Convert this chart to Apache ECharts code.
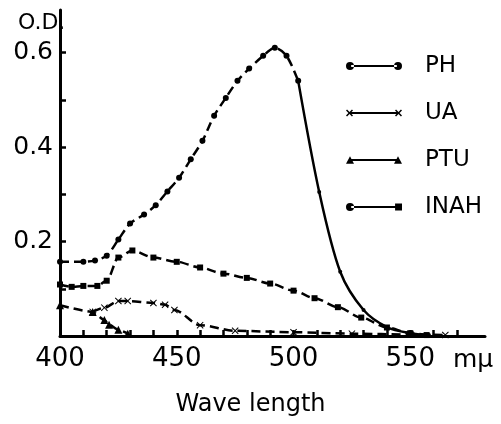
<!DOCTYPE html>
<html>
<head>
<meta charset="utf-8">
<script src="https://cdn.jsdelivr.net/npm/echarts@6/dist/echarts.min.js"></script>
<style>
html,body{margin:0;padding:0;background:#fff;}
#chart{width:501px;height:424px;}
</style>
</head>
<body>
<div id="chart"></div>
<script>
// ---- data ----
var phWaveA = [400, 410, 415, 420, 425, 430, 436, 441, 446, 451, 456, 461, 466, 471, 476, 481, 487, 492, 497, 502];
var phOdA   = [0.157, 0.157, 0.160, 0.170, 0.204, 0.238, 0.257, 0.277, 0.306, 0.335, 0.374, 0.413, 0.466, 0.504, 0.540, 0.566, 0.593, 0.610, 0.593, 0.540];
var phWaveB = [502, 511, 520, 530, 540, 550, 558];
var phOdB   = [0.540, 0.305, 0.136, 0.055, 0.019, 0.006, 0.002];
var uaWave  = [414, 419, 425, 429, 440, 445, 449, 460, 475, 500, 525, 550, 565];
var uaOd    = [0.051, 0.060, 0.074, 0.074, 0.070, 0.066, 0.055, 0.023, 0.011, 0.008, 0.005, 0.003, 0.002];
var ptuWave = [400, 414, 419, 421, 425, 429];
var ptuOd   = [0.065, 0.051, 0.034, 0.024, 0.013, 0.005];
var inahWave = [400, 405, 410, 416, 420, 425, 431, 440, 450, 460, 470, 480, 490, 500, 509, 519, 529, 540, 550, 557];
var inahOd   = [0.109, 0.104, 0.106, 0.106, 0.117, 0.166, 0.181, 0.166, 0.157, 0.145, 0.132, 0.123, 0.111, 0.096, 0.080, 0.061, 0.039, 0.018, 0.006, 0.002];
var seriesNames = ['PH', 'UA', 'PTU', 'INAH'];
var xTickValues = [400, 410, 420, 430, 440, 450, 460, 470, 480, 490, 500, 510, 520, 530, 540, 550, 560, 570];
var xLabelValues = [400, 450, 500, 550];
var yTickValues = [0.1, 0.2, 0.3, 0.4, 0.5, 0.6];
var yLabelValues = [0.2, 0.4, 0.6];

function pairs(xs, ys) { return xs.map(function (x, i) { return [x, ys[i]]; }); }

var FONT = 'DejaVu Sans';
var crossPath = 'path://M0,1L1,0L5,4L9,0L10,1L6,5L10,9L9,10L5,6L1,10L0,9L4,5Z';

// legend icons: marker - line - marker
function circ(cx) { return 'M' + (cx - 3.5) + ',5a3.5,3.5 0 1,0 7,0a3.5,3.5 0 1,0 -7,0Z'; }
function cross(cx) {
  var a = 3, w = 0.9, cy = 5;
  var p = [[cx-a,cy-a+w],[cx-a+w,cy-a],[cx,cy-w],[cx+a-w,cy-a],[cx+a,cy-a+w],[cx+w,cy],[cx+a,cy+a-w],[cx+a-w,cy+a],[cx,cy+w],[cx-a+w,cy+a],[cx-a,cy+a-w],[cx-w,cy]];
  return 'M' + p.map(function (q) { return q[0] + ',' + q[1]; }).join('L') + 'Z';
}
function tri(cx) { return 'M' + (cx - 3.5) + ',8.2L' + cx + ',1.8L' + (cx + 3.5) + ',8.2Z'; }
function sq(cx) { return 'M' + (cx - 3) + ',2H' + (cx + 3) + 'V8H' + (cx - 3) + 'Z'; }
var bar = 'M5,4.2H45V5.8H5Z';
var icons = {
  PH: 'path://' + circ(4) + bar + circ(46),
  UA: 'path://' + cross(4) + bar + cross(46),
  PTU: 'path://' + tri(4) + bar + tri(46),
  INAH: 'path://' + circ(4) + bar + sq(46)
};

var chart = echarts.init(document.getElementById('chart'), null, { renderer: 'canvas' });
var dash = [9, 5];
chart.setOption({
  animation: false,
  backgroundColor: '#fff',
  color: ['#000'],
  title: [
    { text: 'O.D.', left: 13, top: 7, textStyle: { fontFamily: FONT, fontSize: 22, fontWeight: 'normal', color: '#000' } },
    { text: 'Wave length', left: 'center', top: 388, textStyle: { fontFamily: FONT, fontSize: 24, fontWeight: 'normal', color: '#000' } }
  ],
  grid: { left: 60, right: 16, top: 10, bottom: 88, containLabel: false },
  xAxis: {
    type: 'value', min: 400, max: 582,
    name: 'm\u03bc', nameLocation: 'end', nameGap: -32,
    nameTextStyle: { fontFamily: FONT, fontSize: 25, color: '#000', verticalAlign: 'top', padding: [12, 0, 0, 0] },
    axisLine: { lineStyle: { color: '#000', width: 3 } },
    axisTick: { show: true, inside: true, length: 6, customValues: xTickValues, lineStyle: { color: '#000', width: 2.5 } },
    axisLabel: { customValues: xLabelValues, margin: 10, fontFamily: FONT, fontSize: 26, color: '#000' },
    splitLine: { show: false }
  },
  yAxis: {
    type: 'value', min: 0, max: 0.69,
    axisLine: { show: true, lineStyle: { color: '#000', width: 3 } },
    axisTick: { show: true, inside: true, length: 6, customValues: yTickValues, lineStyle: { color: '#000', width: 2.5 } },
    axisLabel: { customValues: yLabelValues, margin: 7, fontFamily: FONT, fontSize: 25, color: '#000',
      formatter: function (v) { return v.toFixed(1); } },
    splitLine: { show: false }
  },
  legend: {
    orient: 'vertical', left: 341, top: 49,
    itemWidth: 56, itemHeight: 10, itemGap: 23,
    itemStyle: { color: '#000', borderWidth: 0 },
    textStyle: { fontFamily: FONT, fontSize: 23, color: '#000', lineHeight: 24, padding: [0, 0, 0, 18] },
    data: seriesNames.map(function (n) { return { name: n, icon: icons[n] }; })
  },
  series: [
    { name: 'PH', type: 'line', smooth: 0.3, data: pairs(phWaveA, phOdA), symbol: 'circle', symbolSize: 6,
      lineStyle: { color: '#000', width: 2.5, type: dash }, itemStyle: { color: '#000' } },
    { name: 'PH', type: 'line', smooth: 0.3, data: pairs(phWaveB, phOdB), symbol: 'circle', symbolSize: 4,
      lineStyle: { color: '#000', width: 2.5, type: 'solid' }, itemStyle: { color: '#000' } },
    { name: 'UA', type: 'line', smooth: 0.3, smoothMonotone: 'x', data: pairs(uaWave, uaOd), symbol: crossPath, symbolSize: 7,
      lineStyle: { color: '#000', width: 2.5, type: dash }, itemStyle: { color: '#000' } },
    { name: 'PTU', type: 'line', smooth: 0.2, smoothMonotone: 'x', data: pairs(ptuWave, ptuOd), symbol: 'triangle', symbolSize: 8,
      lineStyle: { color: '#000', width: 2.5, type: dash }, itemStyle: { color: '#000' } },
    { name: 'INAH', type: 'line', smooth: 0.3, smoothMonotone: 'x', data: pairs(inahWave, inahOd), symbol: 'rect', symbolSize: 6,
      lineStyle: { color: '#000', width: 2.5, type: dash }, itemStyle: { color: '#000' } }
  ]
});
</script>
</body>
</html>
